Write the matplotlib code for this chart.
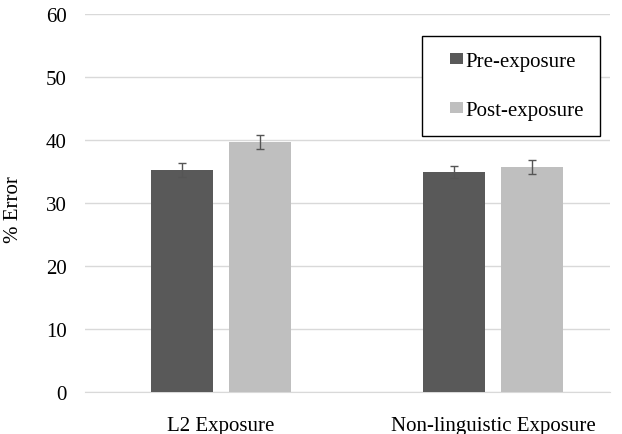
import matplotlib
matplotlib.use("Agg")
import matplotlib.pyplot as plt
import numpy as np
from matplotlib.patches import Patch, Rectangle
from matplotlib.legend_handler import HandlerPatch

categories = ["L2 Exposure", "Non-linguistic Exposure"]
series_names = ["Pre-exposure", "Post-exposure"]
pre_values = [35.2, 34.9]
post_values = [39.7, 35.7]
pre_err = [1.1, 1.0]
post_err = [1.1, 1.15]
yticks = [0, 10, 20, 30, 40, 50, 60]

plt.rcParams['font.family'] = ['Liberation Serif', 'DejaVu Serif']
FS = 15

fig = plt.figure(figsize=(6.22, 4.35), dpi=100)
ax = fig.add_axes([85/622, 1-393/435, (610-85)/622, (393-15)/435])

x = np.arange(len(categories))
w = 0.2275
off = 0.143
c_pre = "#595959"
c_post = "#bfbfbf"
ax.bar(x - off, pre_values, w, color=c_pre, zorder=2)
ax.bar(x + off, post_values, w, color=c_post, zorder=2)
ax.errorbar(x - off, pre_values, yerr=pre_err, fmt='none', ecolor="#555555",
            elinewidth=1, capsize=3, capthick=1, zorder=3)
ax.errorbar(x + off, post_values, yerr=post_err, fmt='none', ecolor="#555555",
            elinewidth=1, capsize=3, capthick=1, zorder=3)

ax.set_ylim(0, 60)
ax.set_xlim(-0.5, 1.43)
ax.set_yticks(yticks)
ax.set_xticks(x)
ax.set_xticklabels(categories, fontsize=FS)
ax.tick_params(axis='y', labelsize=FS, length=0, pad=13)
ax.tick_params(axis='x', length=0, pad=17)
ax.grid(axis='y', color="#d9d9d9", linewidth=1, zorder=0)
for s in ["top", "right", "left"]:
    ax.spines[s].set_visible(False)
ax.spines["bottom"].set_color("#d9d9d9")
ax.spines["bottom"].set_zorder(1)
ax.set_ylabel("% Error", fontsize=FS)
ax.yaxis.set_label_coords(-0.1187, 0.484)


def square(legend, orig_handle, xdescent, ydescent, width, height, fontsize):
    sq_w, sq_h = 9.0, 8.0
    return Rectangle((-xdescent + width - sq_w, -ydescent + (height - sq_h) / 2),
                     sq_w, sq_h)


handles = [Patch(facecolor=c_pre, edgecolor='none'), Patch(facecolor=c_post, edgecolor='none')]
leg = fig.legend(handles, series_names, loc='upper right',
                 bbox_to_anchor=(600/622, 1-37/435), borderaxespad=0,
                 fontsize=FS, frameon=True, fancybox=False, edgecolor='black',
                 handlelength=1.2, handleheight=0.7, handletextpad=0.15,
                 labelspacing=1.4, borderpad=0.75,
                 handler_map={Patch: HandlerPatch(patch_func=square)})
leg.get_frame().set_linewidth(1)
leg.get_frame().set_alpha(None)

fig.savefig("out.png", dpi=100)
